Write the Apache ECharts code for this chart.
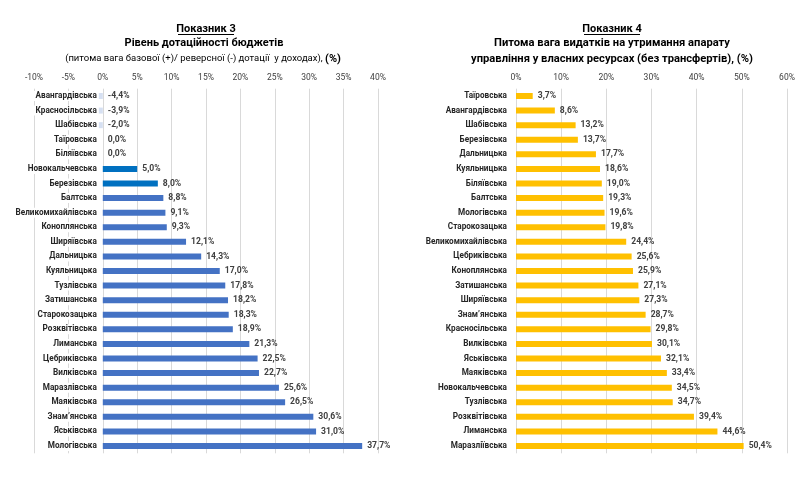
<!DOCTYPE html>
<html><head><meta charset="utf-8">
<script src="https://cdn.jsdelivr.net/npm/echarts@6/dist/echarts.min.js"></script>
<style>html,body{margin:0;padding:0;background:#fff}#c{width:808px;height:479px}</style>
</head><body><div id="c"></div>
<script>
// ---- Data: Показник 3 ----
const cats3 = ['Авангардівська','Красносільська','Шабівська','Таїровська','Біляївська','Новокальчевська','Березівська','Балтська','Великомихайлівська','Коноплянська','Ширяївська','Дальницька','Куяльницька','Тузлівська','Затишанська','Старокозацька','Розквітівська','Лиманська','Цебриківська','Вилківська','Маразлівська','Маяківська','Знам\u2019янська','Яськівська','Мологівська'];
const vals3 = [-4.4,-3.9,-2.0,0.0,0.0,5.0,8.0,8.8,9.1,9.3,12.1,14.3,17.0,17.8,18.2,18.3,18.9,21.3,22.5,22.7,25.6,26.5,30.6,31.0,37.7];
const highlight3 = ['Новокальчевська','Березівська'];
// ---- Data: Показник 4 ----
const cats4 = ['Таїровська','Авангардівська','Шабівська','Березівська','Дальницька','Куяльницька','Біляївська','Балтська','Мологівська','Старокозацька','Великомихайлівська','Цебриківська','Коноплянська','Затишанська','Ширяївська','Знам\u2019янська','Красносільська','Вилківська','Яськівська','Маяківська','Новокальчевська','Тузлівська','Розквітівська','Лиманська','Маразліївська'];
const vals4 = [3.7,8.6,13.2,13.7,17.7,18.6,19.0,19.3,19.6,19.8,24.4,25.6,25.9,27.1,27.3,28.7,29.8,30.1,32.1,33.4,34.5,34.7,39.4,44.6,50.4];

const FONT = 'Roboto';
const fmt = v => v.toFixed(1).replace('.', ',') + '%';
const chart = echarts.init(document.getElementById('c'));
const gridTop = 88.7, gridH = 364.6;
const catLabel = {fontFamily: FONT, fontSize: 8.2, fontWeight: 'bold', color: '#262626'};
const valLabel = {show: true, position: 'right', distance: 5, fontFamily: FONT, fontSize: 8.6, fontWeight: 'bold', color: '#404040', formatter: p => fmt(p.value)};
const tStyle = (text, x, y, size, weight) => ({type: 'text', x: x, y: y, z: 10,
  style: {text: text, textAlign: 'center', textVerticalAlign: 'middle', fontFamily: FONT, fontSize: size, fontWeight: weight, fill: '#000'}});

chart.setOption({
  animation: false,
  graphic: [
    tStyle('Показник 3', 206, 29, 11, 'bold'),
    tStyle('Рівень дотаційності бюджетів', 204, 43, 11, 'bold'),
    {type: 'text', x: 203, y: 59, z: 10, style: {
      text: '{n|(питома вага базової (+)/ реверсної (-) дотації  у доходах), }{b|(%)}',
      textAlign: 'center', textVerticalAlign: 'middle',
      rich: {n: {fontFamily: FONT, fontSize: 9.5, fontWeight: 'normal', fill: '#000'},
             b: {fontFamily: FONT, fontSize: 11, fontWeight: 'bold', fill: '#000'}}}},
    {type: 'line', z: 10, shape: {x1: 178, y1: 34.5, x2: 234, y2: 34.5}, style: {stroke: '#000', lineWidth: 1}},
    tStyle('Показник 4', 612, 29, 11, 'bold'),
    tStyle('Питома вага видатків на утримання апарату', 612, 43, 11.2, 'bold'),
    tStyle('управління у власних ресурсах (без трансфертів), (%)', 612, 59, 11.2, 'bold'),
    {type: 'line', z: 10, shape: {x1: 584, y1: 34.5, x2: 640, y2: 34.5}, style: {stroke: '#000', lineWidth: 1}}
  ],
  grid: [
    {left: 34, top: gridTop, width: 344, height: gridH, outerBoundsMode: 'none', containLabel: false},
    {left: 516, top: gridTop, width: 271, height: gridH, outerBoundsMode: 'none', containLabel: false}
  ],
  xAxis: [
    {gridIndex: 0, type: 'value', position: 'top', min: -10, max: 40, interval: 5,
     axisLine: {show: false}, axisTick: {show: false},
     axisLabel: {margin: 6, fontFamily: FONT, fontSize: 8.5, color: '#404040', formatter: v => v + '%'},
     splitLine: {lineStyle: {color: '#d9d9d9', width: 1}}},
    {gridIndex: 1, type: 'value', position: 'top', min: 0, max: 60, interval: 10,
     axisLine: {show: false}, axisTick: {show: false},
     axisLabel: {margin: 6, fontFamily: FONT, fontSize: 8.5, color: '#404040', formatter: v => v + '%'},
     splitLine: {lineStyle: {color: '#d9d9d9', width: 1}}}
  ],
  yAxis: [
    {gridIndex: 0, type: 'category', data: cats3, inverse: true, z: 5, position: 'left', offset: -68.8,
     axisLine: {show: false, onZero: false}, axisTick: {show: false},
     axisLabel: Object.assign({margin: 4, backgroundColor: '#fff', padding: [1, 2], interval: 0}, catLabel)},
    {gridIndex: 1, type: 'category', data: cats4, inverse: true,
     axisLine: {show: false}, axisTick: {show: false},
     axisLabel: Object.assign({margin: 9, interval: 0}, catLabel)}
  ],
  series: [
    {type: 'bar', xAxisIndex: 0, yAxisIndex: 0, data: vals3, barWidth: 6, z: 2,
     itemStyle: {color: p => p.value < 0 ? '#d6e0f2' : (highlight3.indexOf(p.name) >= 0 ? '#0070c0' : '#4472c4')},
     label: valLabel},
    {type: 'bar', xAxisIndex: 1, yAxisIndex: 1, data: vals4, barWidth: 6,
     itemStyle: {color: '#ffc000'},
     label: valLabel}
  ]
});
</script></body></html>
